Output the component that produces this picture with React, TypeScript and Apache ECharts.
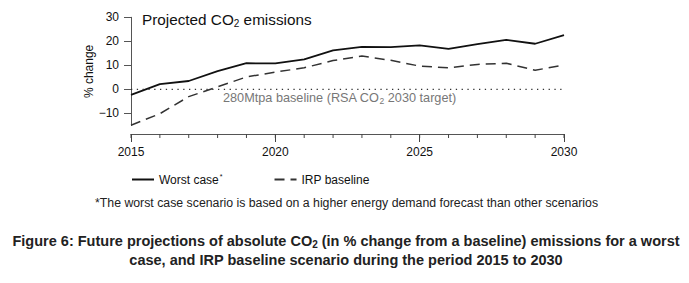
import React, { useEffect, useRef } from "react";
import * as echarts from "echarts";

const years = [2015, 2016, 2017, 2018, 2019, 2020, 2021, 2022, 2023, 2024, 2025, 2026, 2027, 2028, 2029, 2030];
const worstCase = [-2.3, 2.2, 3.5, 7.6, 10.9, 10.8, 12.5, 16.2, 17.7, 17.6, 18.3, 16.9, 18.8, 20.6, 19.0, 22.6];
const irpBaseline = [-14.9, -10.1, -3.0, 1.1, 5.2, 7.2, 9.0, 12.0, 13.9, 12.1, 9.7, 9.0, 10.4, 10.9, 8.0, 10.1];
const baselineYears = [2015, 2030];
const baselineValues = [0, 0];
const yTicks = [-10, 0, 10, 20, 30];
const xLabels = [2015, 2020, 2025, 2030];
const Y_MIN = -15;
const Y_MAX = 30;

const FONT = "'Liberation Sans', Arial, sans-serif";
const AXIS_OFFSET = 8.5;

export default function App() {
  const ref = useRef<HTMLDivElement>(null);
  useEffect(() => {
    document.body.style.margin = "0";
    const chart = echarts.init(ref.current!, null, { renderer: "svg" });
    const option: any = {
      animation: false,
      backgroundColor: "#ffffff",
      textStyle: { fontFamily: FONT },
      grid: { left: 131, right: 125, top: 17.3, bottom: 157.5, containLabel: false },
      xAxis: {
        type: "value",
        min: 2015,
        max: 2030,
        interval: 5,
        offset: AXIS_OFFSET,
        axisLine: { show: true, onZero: false, lineStyle: { color: "#555", width: 1 } },
        axisTick: { show: true, length: 8, lineStyle: { color: "#444", width: 1 } },
        splitLine: { show: false },
        axisLabel: {
          margin: 12,
          fontSize: 12,
          color: "#111",
          fontFamily: FONT,
          formatter: (v: number) => String(v),
        },
      },
      yAxis: {
        type: "value",
        min: Y_MIN,
        max: Y_MAX,
        name: "% change",
        nameLocation: "middle",
        nameGap: 36,
        nameMoveOverlap: false,
        nameTextStyle: { fontSize: 12, color: "#111", fontFamily: FONT },
        axisLine: { show: true, lineStyle: { color: "#555", width: 1 } },
        axisTick: { show: true, length: 7, customValues: yTicks, lineStyle: { color: "#555" } },
        splitLine: { show: false },
        axisLabel: {
          margin: 12,
          fontSize: 12,
          color: "#111",
          fontFamily: FONT,
          customValues: yTicks,
          formatter: (v: number) => String(v).replace("-", "\u2212"),
        },
      },
      legend: {
        data: ["Worst case", "IRP baseline"],
        left: 131,
        top: 173,
        padding: 0,
        itemWidth: 22,
        itemHeight: 12,
        itemGap: 51,
        itemStyle: { opacity: 0 },
        textStyle: {
          fontSize: 12,
          color: "#111",
          fontFamily: FONT,
          rich: {
            a: { fontSize: 12, color: "#111", fontFamily: FONT },
            s: { fontSize: 7, color: "#111", fontFamily: FONT, verticalAlign: "top", padding: [0, 0, 6, 1] },
          },
        },
        formatter: (name: string) => (name === "Worst case" ? "{a|Worst case}{s|*}" : "{a|" + name + "}"),
      },
      series: [
        {
          name: "Worst case",
          type: "line",
          symbol: "none",
          showSymbol: false,
          data: years.map((y, i) => [y, worstCase[i]]),
          lineStyle: { color: "#111", width: 1.8 },
          itemStyle: { color: "#111" },
        },
        {
          name: "IRP baseline",
          type: "line",
          symbol: "none",
          showSymbol: false,
          data: years.map((y, i) => [y, irpBaseline[i]]),
          lineStyle: { color: "#333", width: 1.5, type: [10, 6] },
          itemStyle: { color: "#333" },
        },
        {
          name: "280Mtpa baseline",
          type: "line",
          symbol: "none",
          data: baselineYears.map((y, i) => [y, baselineValues[i]]),
          lineStyle: { color: "#333", width: 1.3, type: [1.3, 4.5] },
          itemStyle: { color: "#333" },
          silent: true,
        },
        {
          name: "yearTicks",
          type: "custom",
          silent: true,
          clip: false,
          data: years.map((y) => [y, Y_MIN]),
          renderItem: (params: any, api: any) => {
            const p = api.coord([api.value(0), api.value(1)]);
            const y0 = p[1] + AXIS_OFFSET;
            return {
              type: "line",
              shape: { x1: p[0], y1: y0, x2: p[0], y2: y0 + 4 },
              style: { stroke: "#444", lineWidth: 1 },
            };
          },
        },
      ],
      graphic: [
        {
          type: "text",
          left: 142,
          top: 12,
          style: {
            text: "{t|Projected CO}{s|2}{t| emissions}",
            rich: {
              t: { fontSize: 15.3, fill: "#111", fontFamily: FONT },
              s: { fontSize: 10, fill: "#111", fontFamily: FONT, padding: [8, 0, 0, 0] },
            },
          },
        },
        {
          type: "text",
          left: 223,
          top: 91,
          style: {
            text: "{t|280Mtpa baseline (RSA CO}{s|2}{t| 2030 target)}",
            rich: {
              t: { fontSize: 12.7, fill: "#777", fontFamily: FONT },
              s: { fontSize: 8.5, fill: "#777", fontFamily: FONT, padding: [6, 0, 0, 0] },
            },
          },
        },
        {
          type: "text",
          left: 95,
          top: 197,
          style: {
            text: "*The worst case scenario is based on a higher energy demand forecast than other scenarios",
            fontSize: 12.3,
            fill: "#222",
            fontFamily: FONT,
          },
        },
        {
          type: "text",
          x: 346,
          y: 241,
          style: {
            text: "{t|Figure 6: Future projections of absolute CO}{s|2}{t| (in % change from a baseline) emissions for a worst}",
            align: "center",
            verticalAlign: "middle",
            rich: {
              t: { fontSize: 14.5, fontWeight: "bold", fill: "#222", fontFamily: FONT },
              s: { fontSize: 10, fontWeight: "bold", fill: "#222", fontFamily: FONT, padding: [7, 0, 0, 0] },
            },
          },
        },
        {
          type: "text",
          x: 346,
          y: 259.5,
          style: {
            text: "case, and IRP baseline scenario during the period 2015 to 2030",
            align: "center",
            verticalAlign: "middle",
            fontSize: 14.5,
            fontWeight: "bold",
            fill: "#222",
            fontFamily: FONT,
          },
        },
      ],
    };
    chart.setOption(option);
    return () => chart.dispose();
  }, []);
  return (
    <div
      ref={ref}
      style={{ position: "absolute", left: 0, top: 0, width: 689, height: 283, background: "#fff" }}
    />
  );
}
